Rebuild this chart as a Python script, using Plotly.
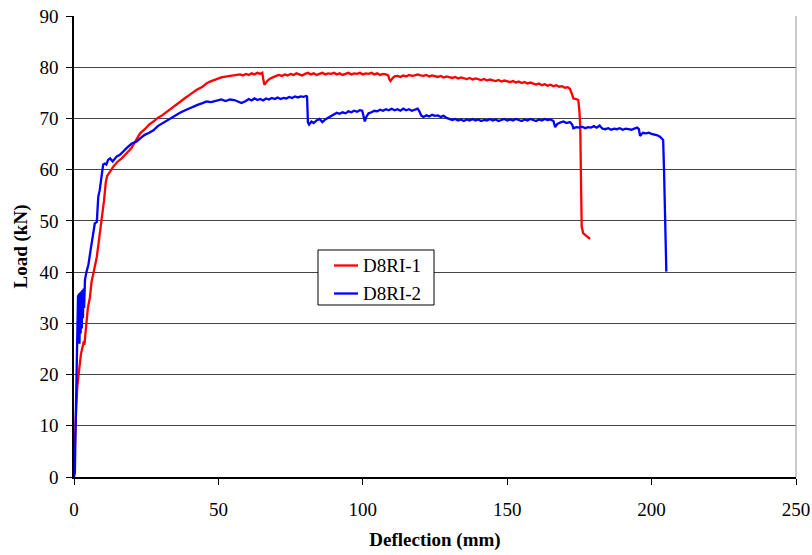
import plotly.graph_objects as go

# Load-deflection readings for specimen D8RI-1 (deflection in mm, load in kN)
d8ri1_defl = [0.2, 0.4, 0.8, 1.2, 1.8, 2.4, 3.0, 3.4, 3.6, 3.9, 4.2, 4.8, 5.5, 6.1, 7.0, 7.9,
              8.7, 9.6, 10.4, 11.0, 11.5, 12.5, 13.6, 15.0, 16.5, 18.2, 19.9, 21.5, 22.9, 24.5,
              26.0, 27.5, 29.0, 30.5, 32.1, 33.7, 35.2, 36.7, 38.5, 40.5, 42.5, 44.5, 46.0, 47.1,
              49.0, 51.0, 52.9, 55.0, 57.5, 58.5, 59.5, 60.5, 61.5, 62.5, 63.5, 64.5, 65.2, 65.5,
              65.9, 66.5, 67.2, 68.0, 69.0, 70.0, 71, 72, 73, 74, 75, 76, 77, 78, 79, 80, 81, 82,
              83, 84, 85, 86, 87, 88, 89, 90, 91, 92, 93, 94, 95, 96, 97, 98, 99, 100, 101, 102,
              103, 104, 105, 106, 107, 108, 108.8, 109.2, 109.6, 110.2, 111, 112, 113, 114, 115,
              116, 117, 118, 119, 120, 121, 122, 123, 124, 125, 126, 127, 128, 129, 130, 131, 132,
              133, 134, 135, 136, 137, 138, 139, 140, 141, 142, 143, 144, 145, 146, 147, 148, 149,
              150, 151, 152, 153, 154, 155, 156, 157, 158, 159, 160, 161, 162, 163, 164, 165, 166,
              167, 168, 169, 170, 171, 171.7, 172.4, 172.9, 173.8, 174.6, 175.0, 175.3, 175.5,
              175.7, 175.8, 176.3, 177.2, 178.0, 178.7]
d8ri1_load = [4.8, 9.0, 14.0, 18.0, 21.0, 24.0, 25.5, 26.5, 25.8, 28.0, 30.0, 33.0, 35.0, 38.2,
              40.5, 43.0, 46.5, 50.0, 54.0, 57.5, 58.8, 59.6, 60.6, 61.5, 62.2, 63.2, 64.2, 65.8,
              67.1, 67.9, 68.8, 69.4, 70.1, 70.6, 71.3, 72.0, 72.7, 73.3, 74.0, 74.8, 75.6, 76.2,
              76.9, 77.2, 77.6, 78.0, 78.2, 78.4, 78.6, 78.4, 78.7, 78.5, 78.8, 78.6, 78.9, 78.7,
              78.9, 77.8, 76.6, 77.0, 77.5, 77.8, 78.1, 78.3, 78.5, 78.3, 78.6, 78.4, 78.7, 78.5,
              78.8, 78.6, 78.4, 78.7, 78.9, 78.6, 78.8, 78.5, 78.7, 78.9, 78.6, 78.8, 78.7, 78.9,
              78.6, 78.8, 78.5, 78.7, 78.9, 78.6, 78.8, 78.7, 78.9, 78.6, 78.8, 78.7, 78.9, 78.6,
              78.8, 78.5, 78.7, 78.6, 78.4, 77.6, 77.3, 77.8, 78.2, 78.3, 78.1, 78.4, 78.2, 78.5,
              78.3, 78.4, 78.6, 78.4, 78.3, 78.5, 78.2, 78.4, 78.3, 78.1, 78.3, 78.0, 78.2, 78.1,
              77.9, 78.1, 77.8, 78.0, 77.9, 77.7, 77.9, 77.6, 77.8, 77.7, 77.5, 77.7, 77.4, 77.6,
              77.5, 77.3, 77.5, 77.2, 77.4, 77.3, 77.1, 77.3, 77.0, 77.2, 76.9, 77.1, 76.8, 77.0,
              76.8, 76.6, 76.8, 76.5, 76.7, 76.4, 76.6, 76.3, 76.5, 76.2, 76.3, 76.0, 76.1, 75.8,
              74.8, 73.9, 73.8, 73.6, 71.5, 68.4, 60.0, 52.0, 48.9, 47.6, 47.1, 46.8, 46.5]

# Load-deflection readings for specimen D8RI-2
d8ri2_defl = [0.0, 0.3, 0.5, 0.7, 0.9, 1.1, 1.3, 1.4, 1.5, 1.7, 1.9, 2.1, 2.3, 2.5, 2.7, 2.9,
              3.1, 3.3, 3.5, 3.8, 4.3, 5.0, 5.8, 6.7, 7.2, 7.9, 8.2, 8.4, 8.9, 9.6, 10.1, 10.7,
              11.2, 11.8, 12.5, 13.4, 14.8, 15.9, 17.0, 18.2, 20.0, 21.7, 22.9, 24.5, 26.0, 27.5,
              29.0, 30.5, 32.1, 33.5, 35.0, 36.7, 38.5, 40.0, 41.3, 43.0, 44.5, 45.9, 47.5, 49.4,
              51.0, 52.5, 54.0, 55.5, 56.8, 58.0, 59.5, 60.5, 61.5, 62.5, 63.5, 64.5, 65.5, 66.5,
              67.5, 68.5, 69.5, 70.5, 71.5, 72.5, 73.5, 74.5, 75.5, 76.5, 77.5, 78.5, 79.5, 80.3,
              80.7, 81.0, 81.4, 82.2, 83, 84, 85, 86, 87, 88, 89, 90, 91, 92, 93, 94, 95, 96, 97,
              98, 99, 99.8, 100.3, 100.7, 101.2, 102, 103, 104, 105, 106, 107, 108, 109, 110, 111,
              112, 113, 114, 115, 116, 117, 118, 119, 119.6, 120.2, 121, 122, 123, 124, 125, 126,
              127, 128, 129, 130, 131, 132, 133, 134, 135, 136, 137, 138, 139, 140, 141, 142, 143,
              144, 145, 146, 147, 148, 149, 150, 151, 152, 153, 154, 155, 156, 157, 158, 159, 160,
              161, 162, 163, 164, 165, 166, 166.6, 167.3, 168.3, 169.5, 170.5, 171.7, 172.5, 172.9,
              174, 175, 176, 177, 178, 179, 180, 181, 182, 183, 184, 185, 186, 187, 188, 189, 190,
              191, 192, 193, 194, 195, 195.6, 196, 196.5, 197, 198, 199, 200, 201, 202, 203, 204,
              204.3, 204.6, 204.9, 205.1]
d8ri2_load = [0.0, 0.8, 8.0, 15.0, 20.0, 24.0, 30.0, 35.5, 27.0, 35.8, 26.0, 36.0, 28.0, 36.2,
              29.0, 36.5, 31.0, 36.8, 33.0, 38.5, 40.0, 41.5, 44.5, 48.0, 49.5, 49.8, 52.0, 54.7,
              56.0, 59.3, 61.0, 61.2, 61.0, 61.9, 62.2, 61.6, 62.6, 62.9, 63.6, 64.2, 65.1, 65.5,
              66.1, 66.8, 67.2, 67.7, 68.5, 69.0, 69.7, 70.0, 70.6, 71.1, 71.6, 72.0, 72.3, 72.7,
              73.0, 73.3, 73.2, 73.5, 73.7, 73.4, 73.7, 73.6, 73.3, 73.0, 73.4, 73.8, 73.5, 73.9,
              73.6, 73.8, 73.5, 73.9, 73.7, 74.0, 73.8, 74.1, 73.8, 74.0, 73.9, 74.2, 74.0, 74.3,
              74.1, 74.3, 74.2, 74.4, 74.3, 69.2, 68.8, 69.4, 69.1, 69.6, 69.9, 69.3, 69.8, 70.1,
              70.5, 70.8, 71.1, 70.9, 71.2, 71.0, 71.4, 71.2, 71.5, 71.3, 71.6, 71.5, 70.4, 69.4,
              70.3, 71.0, 71.2, 71.5, 71.4, 71.7, 71.5, 71.8, 71.6, 71.9, 71.6, 71.8, 71.5, 71.9,
              71.6, 71.8, 71.5, 71.7, 71.9, 71.4, 70.6, 70.3, 70.6, 70.4, 70.7, 70.5, 70.6, 70.3,
              70.5, 70.1, 69.9, 69.7, 69.9, 69.6, 69.8, 69.5, 69.8, 69.6, 69.9, 69.6, 69.8, 69.5,
              69.7, 69.6, 69.9, 69.6, 69.8, 69.5, 69.7, 69.9, 69.6, 69.8, 69.6, 69.9, 69.7, 69.5,
              69.8, 69.6, 69.9, 69.7, 69.5, 69.8, 69.6, 69.9, 69.7, 69.8, 69.5, 68.3, 68.9, 69.2,
              69.4, 69.1, 69.3, 68.8, 68.1, 68.3, 68.2, 68.4, 68.1, 68.3, 68.2, 68.5, 68.2, 68.6,
              68.0, 67.9, 68.1, 67.8, 68.0, 67.9, 68.1, 67.8, 68.0, 67.9, 67.8, 68.0, 68.2, 67.9,
              66.6, 66.9, 67.2, 67.1, 67.2, 67.0, 66.9, 66.7, 66.4, 65.8, 60.0, 50.0, 42.0, 40.1]

series_names = ["D8RI-1", "D8RI-2"]
series_colors = ["#FF0000", "#0000FF"]

x_ticks = [0, 50, 100, 150, 200, 250]
y_ticks = [0, 10, 20, 30, 40, 50, 60, 70, 80, 90]

serif = "Liberation Serif, Times New Roman, serif"
FS = 19

# plot area geometry in pixels (used to place the boxed key in paper units)
W, H = 812, 555
ML, MR, MT, MB = 74, 16, 16, 78
PW, PH = W - ML - MR, H - MT - MB


def px_x(px):
    return (px - ML) / PW


def px_y(py):
    return (H - MB - py) / PH


fig = go.Figure()
for xs, ys, name, color in zip([d8ri1_defl, d8ri2_defl], [d8ri1_load, d8ri2_load],
                               series_names, series_colors):
    fig.add_trace(go.Scatter(x=xs, y=ys, mode="lines", name=name, showlegend=False,
                             line=dict(color=color, width=2.3)))

fig.update_layout(
    width=W, height=H,
    margin=dict(l=ML, r=MR, t=MT, b=MB),
    paper_bgcolor="white", plot_bgcolor="white",
    font=dict(family=serif, size=FS, color="black"),
    showlegend=False,
    xaxis=dict(range=[0, 250], tickvals=x_ticks, showgrid=False, zeroline=False,
               automargin=False,
               showline=True, linecolor="black", linewidth=1.5,
               ticks="outside", ticklen=6, tickcolor="black",
               ticklabelstandoff=8,
               title=dict(text="<b>Deflection (mm)</b>", standoff=14,
                          font=dict(family=serif, size=FS))),
    yaxis=dict(range=[0, 90], tickvals=y_ticks, showgrid=True, gridcolor="#444444",
               gridwidth=1, zeroline=False, automargin=False,
               showline=True, linecolor="black", linewidth=1.5,
               ticks="outside", ticklen=6, tickcolor="black",
               ticklabelstandoff=4,
               title=dict(text="<b>Load (kN)</b>", standoff=7,
                          font=dict(family=serif, size=FS))),
)

# thin grey frame line on the right edge of the plotting area
fig.add_shape(type="line", xref="paper", yref="paper", x0=1, x1=1, y0=0, y1=1,
              line=dict(color="#999999", width=1))

# boxed key for the two specimens
fig.add_shape(type="rect", xref="paper", yref="paper",
              x0=px_x(318), x1=px_x(434), y0=px_y(305), y1=px_y(250),
              line=dict(color="black", width=1), fillcolor="white", layer="above")
for i, (name, color) in enumerate(zip(series_names, series_colors)):
    yc = px_y(265.5 + 28 * i)
    fig.add_shape(type="line", xref="paper", yref="paper",
                  x0=px_x(334), x1=px_x(358), y0=yc, y1=yc,
                  line=dict(color=color, width=2.3), layer="above")
    fig.add_annotation(x=px_x(361), y=yc, xref="paper", yref="paper", text=name,
                       showarrow=False, xanchor="left", yanchor="middle",
                       font=dict(family=serif, size=FS, color="black"))

fig.write_html("out.html")
